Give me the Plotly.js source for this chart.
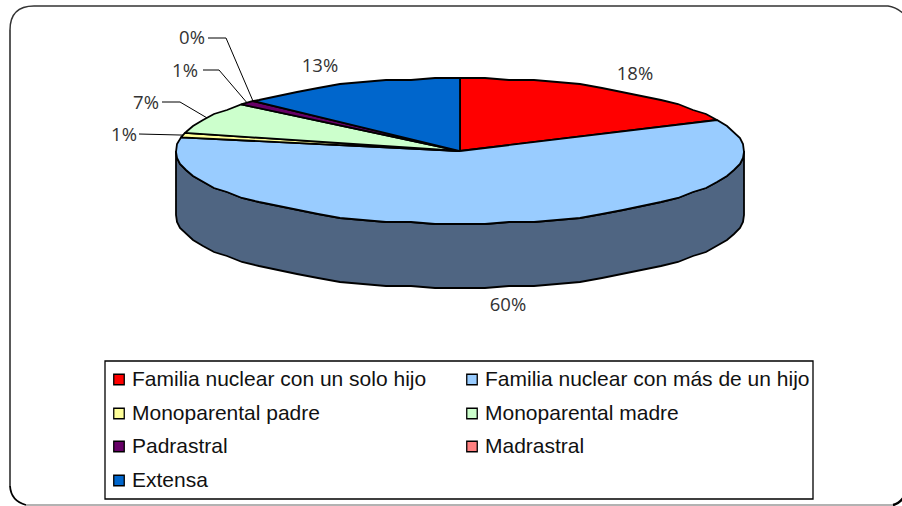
<!DOCTYPE html>
<html>
<head>
<meta charset="utf-8">
<script src="https://cdn.plot.ly/plotly-3.0.1.min.js"></script>
<style>html,body{margin:0;padding:0;background:#fff}#chart{width:902px;height:506px}</style>
</head>
<body>
<div id="chart"></div>
<script>
const categories = ["Familia nuclear con un solo hijo","Familia nuclear con más de un hijo","Monoparental padre","Monoparental madre","Padrastral","Madrastral","Extensa"];
const values = [18,60,1,7,1,0,13];
const colors = ["#ff0000","#99ccff","#ffff99","#ccffcc","#660066","#ff8080","#0066cc"];
const wallColor = "#4f6582";
const labelX = [635,508,124,146,185,192,320];
const labelY = [74,305,135,103,71,38,66];
const legendColX = [119,472];
const legendRowY = [378,412,445,479];

const cx=460, cy=151, rx=284, ry=73, depth=64;
const total = values.reduce((a,b)=>a+b,0);
const pt = (deg,dy=0)=>{const t=deg*Math.PI/180;return [cx+rx*Math.sin(t), cy-ry*Math.cos(t)+dy];};
// the disc edge is a coarse polygon snapped to a 2 px grid, like the reference's low-resolution outline
const snap = p=>[Math.round(p[0]), Math.round(p[1]/2)*2];
const arc = (a,b,dy=0)=>{
  const step=5, o=[pt(a,dy)];
  let d=(Math.floor(a/step)+1)*step;
  for(;d<b-0.01;d+=step)o.push(snap(pt(d,dy)));
  o.push(pt(b,dy));
  return o;
};
const traces=[];
let start=0;
const mids=[];
const spans=[];
values.forEach(v=>{const e=start+v/total*360;spans.push([start,e]);mids.push((start+e)/2);start=e;});

const outline={color:"#000",width:1.8};
// wall under the front of the disc
const wall = arc(90,270).concat(arc(90,270,depth).reverse());
wall.push(wall[0]);
traces.push({type:"scatter",mode:"lines",x:wall.map(p=>p[0]),y:wall.map(p=>p[1]),fill:"toself",fillcolor:wallColor,line:outline,hoverinfo:"skip",showlegend:false});

// slices
values.forEach((v,i)=>{
  if(v===0) return;
  const [a,b]=spans[i];
  const pts=[[cx,cy]].concat(arc(a,b));pts.push([cx,cy]);
  traces.push({type:"scatter",mode:"lines",name:categories[i],x:pts.map(p=>p[0]),y:pts.map(p=>p[1]),fill:"toself",fillcolor:colors[i],line:outline,showlegend:false,hoverinfo:"name"});
});

// leader lines: label index -> elbow point
const leaders=[[2,139,134,null,null],[3,162,102,180,102],[4,203,70,219,70],[5,208,38,226,38]];
leaders.forEach(([i,x0,y0,x1,y1])=>{
  const p=pt(mids[i]);
  const xs=[x0],ys=[y0];
  if(x1!==null){xs.push(x1);ys.push(y1);}
  xs.push(p[0]);ys.push(p[1]);
  traces.push({type:"scatter",mode:"lines",x:xs,y:ys,line:{color:"#000",width:1},hoverinfo:"skip",showlegend:false});
});

// percentage labels
traces.push({type:"scatter",mode:"text",x:labelX,y:labelY.map(y=>y+1.5),text:values.map(v=>v+"%"),textposition:"middle center",textfont:{family:"Open Sans, sans-serif",size:18.5,color:"#333"},hoverinfo:"skip",showlegend:false});

// legend
const lx=categories.map((c,i)=>legendColX[i%2]);
const ly=categories.map((c,i)=>legendRowY[Math.floor(i/2)]);
traces.push({type:"scatter",mode:"markers",x:lx,y:ly.map(y=>y+1.5),marker:{symbol:"square",size:10.5,color:colors,line:{color:"#000",width:1.3}},hoverinfo:"skip",showlegend:false});

const annotations=categories.map((c,i)=>({x:lx[i]+11,y:ly[i],xref:"x",yref:"y",text:c,showarrow:false,xanchor:"left",yanchor:"middle",font:{family:"Liberation Sans, Arial, sans-serif",size:21,color:"#111"}}));

const shapes=[
 {type:"path",path:"M 10,30 Q 10,6 34,6 L 888,6 Q 897,7 906,16",line:{color:"#333",width:1.5},layer:"below"},
 {type:"line",x0:10,x1:10,y0:30,y1:486,line:{color:"#222",width:1.5},layer:"below"},
 {type:"path",path:"M 10,486 Q 11,501 26,505",line:{color:"#000",width:1.8},layer:"below"},
 {type:"line",x0:26,x1:893,y0:505,y1:505,line:{color:"#999",width:1.5},layer:"below"},
 {type:"path",path:"M 893,505 Q 899,504 904,497",line:{color:"#000",width:2.5},layer:"below"},
 {type:"rect",x0:105,x1:813,y0:361,y1:499,line:{color:"#000",width:1.3},fillcolor:"rgba(255,255,255,0)",layer:"below"}
];

Plotly.newPlot("chart",traces,{
  width:902,height:506,margin:{l:0,r:0,t:0,b:0},
  paper_bgcolor:"#fff",plot_bgcolor:"#fff",showlegend:false,
  xaxis:{range:[0,902],visible:false,fixedrange:true},
  yaxis:{range:[506,0],visible:false,fixedrange:true},
  shapes,annotations
},{displayModeBar:false,staticPlot:true});
</script>
</body>
</html>
